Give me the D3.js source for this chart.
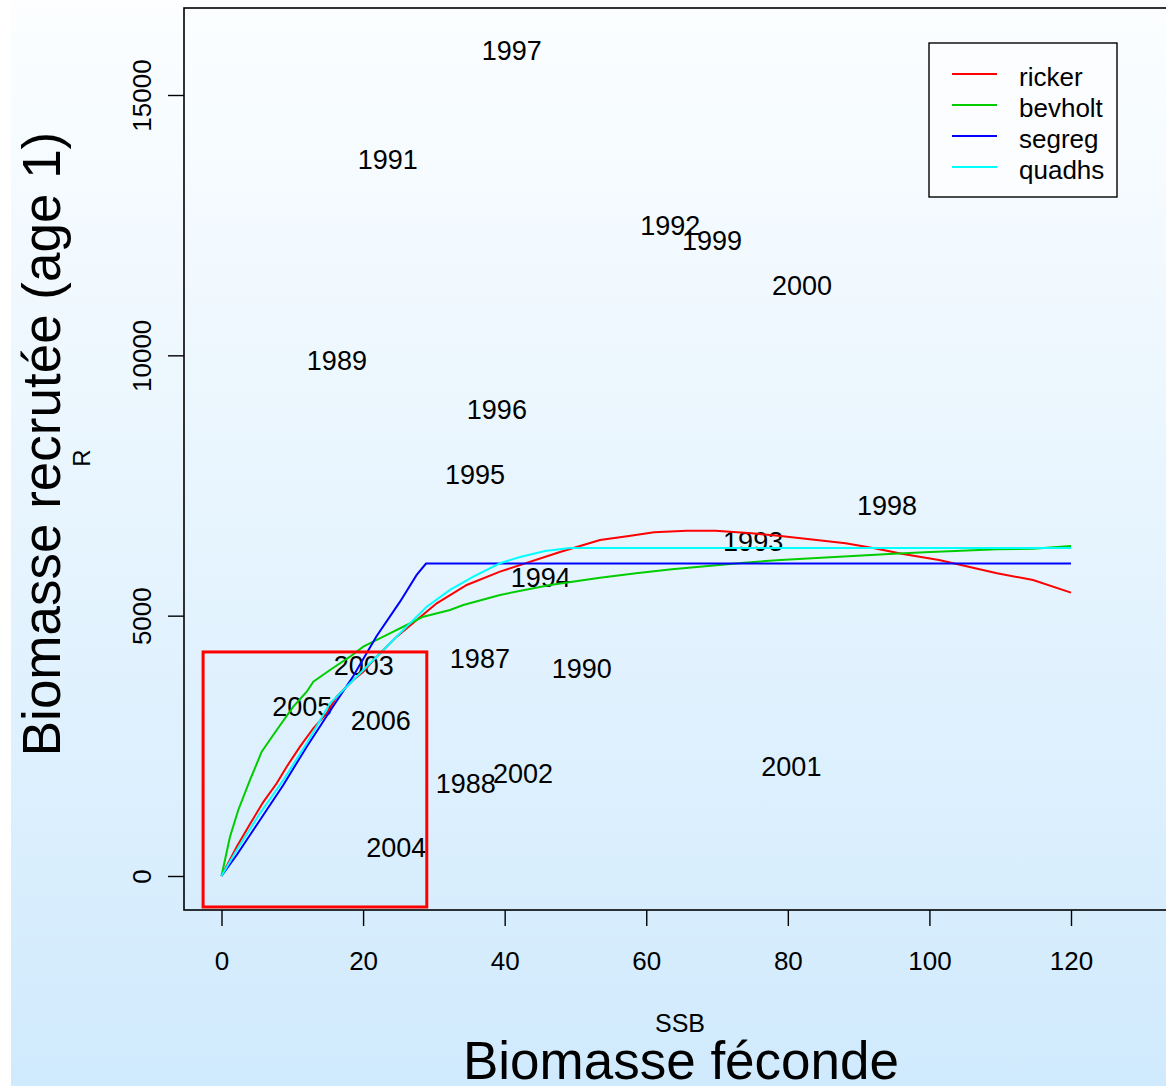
<!DOCTYPE html>
<html><head><meta charset="utf-8">
<script src="https://cdn.jsdelivr.net/npm/d3@7"></script>
<style>body{margin:0;background:#fff}svg{display:block}text{font-family:"Liberation Sans",Arial,sans-serif;fill:#000}</style>
</head><body>
<svg id="c" width="1166" height="1086"></svg>
<script>
// ---- data ----
const years = ["1997","1991","1992","1999","2000","1989","1996","1995","1998","1993","1994","1987","1990","2003","2005","2006","1988","2002","2001","2004"];
const ssb   = [41.0,23.5,63.4,69.3,82.0,16.3,38.9,35.8,94.0,75.1,45.1,36.5,50.9,20.1,11.4,22.5,34.5,42.6,80.5,24.7];
const recr  = [15867,13773,12505,12217,11352,9912,8970,7722,7126,6435,5743,4187,3995,4053,3265,2997,1786,1979,2113,557];

const rickerX = [0,2.15,4.03,5.9,7.8,9.21,11.09,12.97,14.86,16.27,18.62,20.03,21.92,24.75,27.57,30.4,34.64,39.34,47.82,53.47,57.55,61.1,65.7,69.78,74.88,78.97,84.07,88.15,92.23,96.27,101.36,104.46,109.55,114.64,120];
const rickerY = [0,563,1000,1420,1781,2100,2484,2837,3125,3444,3765,3924,4212,4597,4917,5238,5590,5845,6224,6454,6531,6602,6633,6633,6583,6531,6454,6391,6295,6185,6070,5974,5814,5685,5442];

const bevholtX = [0,1.2,2.37,4.03,5.68,7.8,10.14,12.04,12.97,15.33,18.15,20.03,22.86,26.16,28.51,32.28,34.16,39.34,46.4,53.47,58.55,63.64,68.72,73.81,78.97,84.07,89.17,94.27,99.36,104.46,109.55,114.64,120];
const bevholtY = [0,755,1268,1844,2388,2804,3252,3540,3732,3957,4212,4405,4597,4821,4981,5110,5206,5398,5590,5730,5815,5891,5955,6018,6070,6108,6147,6185,6218,6249,6276,6287,6339];

const segregX = [0,2.15,5.44,8.73,12.04,15.33,18.62,21.92,25.22,27.57,28.89,120];
const segregY = [0,403,1076,1748,2484,3170,3842,4610,5269,5782,6000,6000];

const quadhsX = [0,2.15,5.44,8.73,12.04,15.33,18.62,21.92,25.22,28.99,32.28,35.57,39.34,42.17,45.7,49.23,120];
const quadhsY = [0,499,1204,1844,2549,3317,3765,4212,4662,5173,5494,5749,6007,6128,6243,6300,6300];

const seriesNames  = ["ricker","bevholt","segreg","quadhs"];
const seriesColors = ["#ff0000","#00cd00","#0000ff","#00ffff"];
const xTicks = [0,20,40,60,80,100,120];
const yTicks = [0,5000,10000,15000];
const zoomBoxX = [-2.6, 29.0];
const zoomBoxY = [-595, 4303];

// ---- layout ----
const svg = d3.select("#c");
const defs = svg.append("defs");
const grad = defs.append("linearGradient").attr("id","bg").attr("x1",0).attr("y1",0).attr("x2",0).attr("y2",1);
grad.append("stop").attr("offset","0%").attr("stop-color","#fcfeff");
grad.append("stop").attr("offset","100%").attr("stop-color","#d0eafd");
svg.append("rect").attr("x",11).attr("y",0).attr("width",1155).attr("height",1086).attr("fill","url(#bg)");

const x = d3.scaleLinear().domain([0,120]).range([221.5,1071]);
const y = d3.scaleLinear().domain([0,15000]).range([876,95]);
const pL = 184, pB = 910, pT = 8, pR = 1197;

// plot box
svg.append("rect").attr("x",pL).attr("y",pT).attr("width",pR-pL).attr("height",pB-pT)
  .attr("fill","none").attr("stroke","#000").attr("stroke-width",1.6);

// axes
const xAxis = svg.append("g").attr("transform",`translate(0,${pB})`)
  .call(d3.axisBottom(x).tickValues(xTicks).tickSize(16).tickPadding(26).tickSizeOuter(0));
xAxis.select(".domain").remove();
xAxis.selectAll("line").attr("stroke-width",1.4);
xAxis.selectAll("text").attr("font-size",26).attr("font-family","Liberation Sans, Arial");

const yAxis = svg.append("g").attr("transform",`translate(${pL},0)`)
  .call(d3.axisLeft(y).tickValues(yTicks).tickSize(16).tickFormat(d3.format("d")).tickSizeOuter(0));
yAxis.select(".domain").remove();
yAxis.selectAll("line").attr("stroke-width",1.4);
yAxis.selectAll("text").attr("font-size",26).attr("font-family","Liberation Sans, Arial")
  .attr("text-anchor","middle").attr("x",0).attr("dy",0)
  .attr("transform","translate(-33,0) rotate(-90)");

// year labels
svg.append("g").selectAll("text").data(years).join("text")
  .attr("x",(d,i)=>x(ssb[i])).attr("y",(d,i)=>y(recr[i])).attr("dy","0.36em")
  .attr("text-anchor","middle").attr("font-size",27).text(d=>d);

// curves
const allX = [rickerX,bevholtX,segregX,quadhsX];
const allY = [rickerY,bevholtY,segregY,quadhsY];
const line = d3.line().x(d=>x(d[0])).y(d=>y(d[1]));
seriesNames.forEach((n,k)=>{
  const pts = allX[k].map((v,i)=>[v,allY[k][i]]);
  svg.append("path").attr("d",line(pts)).attr("fill","none")
    .attr("stroke",seriesColors[k]).attr("stroke-width",2);
});

// red zoom rectangle
svg.append("rect").attr("x",x(zoomBoxX[0])).attr("y",y(zoomBoxY[1]))
  .attr("width",x(zoomBoxX[1])-x(zoomBoxX[0])).attr("height",y(zoomBoxY[0])-y(zoomBoxY[1]))
  .attr("fill","none").attr("stroke","#ff0000").attr("stroke-width",3);

// legend
const lg = svg.append("g");
lg.append("rect").attr("x",929).attr("y",43).attr("width",188).attr("height",154)
  .attr("fill","#fbfdff").attr("stroke","#000").attr("stroke-width",1.4);
seriesNames.forEach((n,k)=>{
  const yy = 74 + k*31;
  lg.append("line").attr("x1",952).attr("x2",997).attr("y1",yy).attr("y2",yy)
    .attr("stroke",seriesColors[k]).attr("stroke-width",2);
  lg.append("text").attr("x",1019).attr("y",yy+3).attr("dy","0.36em").attr("font-size",26).text(n);
});

// axis titles
svg.append("text").attr("x",680).attr("y",1032).attr("text-anchor","middle").attr("font-size",25).text("SSB");
svg.append("text").attr("x",681).attr("y",1079).attr("text-anchor","middle").attr("font-size",53).text("Biomasse féconde");
svg.append("text").attr("transform","translate(60,444) rotate(-90)").attr("text-anchor","middle").attr("font-size",53).text("Biomasse recrutée (age 1)");
svg.append("text").attr("transform","translate(90,458) rotate(-90)").attr("text-anchor","middle").attr("font-size",24).text("R");
</script>
</body></html>
